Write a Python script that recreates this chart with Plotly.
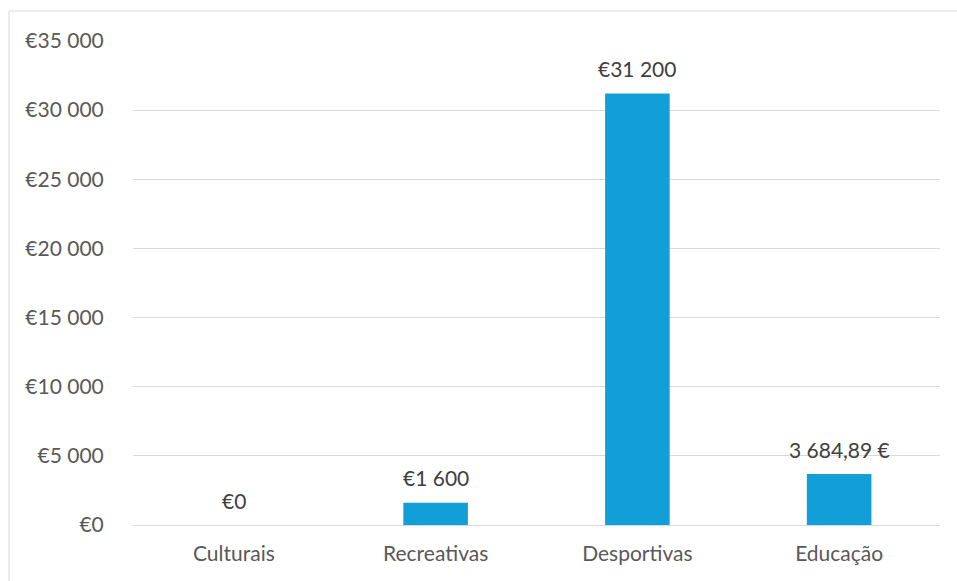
import plotly.graph_objects as go

categories = ["Culturais", "Recreativas", "Desportivas", "Educação"]
values = [0, 1600, 31200, 3684.89]
labels = ["€0", "€1 600", "€31 200", "3 684,89 €"]
tick_values = [0, 5000, 10000, 15000, 20000, 25000, 30000, 35000]
tick_labels = ["€0", "€5 000", "€10 000", "€15 000", "€20 000", "€25 000", "€30 000", "€35 000"]

text_color = "#595959"
font_family = "Lato, 'Open Sans', sans-serif"
FS = 21

fig = go.Figure(
    go.Bar(
        x=categories,
        y=values,
        marker=dict(color="#129fd8", line=dict(width=0)),
        width=0.32,
        hoverinfo="x+y",
    )
)

for c, v, t in zip(categories, values, labels):
    fig.add_annotation(
        x=c, y=v, text=t, showarrow=False,
        yanchor="middle", yshift=25,
        font=dict(size=FS, color="#404040", family=font_family),
    )

W, H = 957, 581
L, T = 133, 41
R = W - 940
B = H - 525
pw, ph = W - L - R, H - T - B

bx = (9 - L) / pw
by = 1 + (T - 11) / ph
border = dict(color="#d9d9d9", width=1)

fig.update_layout(
    width=W,
    height=H,
    margin=dict(l=L, r=R, t=T, b=B, pad=0),
    paper_bgcolor="white",
    plot_bgcolor="white",
    showlegend=False,
    font=dict(family=font_family, size=FS, color=text_color),
    xaxis=dict(
        showgrid=False,
        showline=False,
        ticks="outside",
        ticklen=10,
        tickcolor="rgba(0,0,0,0)",
        tickfont=dict(size=FS, color=text_color),
    ),
    yaxis=dict(
        range=[0, 35000],
        tickvals=tick_values,
        ticktext=tick_labels,
        showgrid=True,
        gridcolor="#d9d9d9",
        gridwidth=1,
        zeroline=True,
        zerolinecolor="#d9d9d9",
        zerolinewidth=1,
        showline=False,
        ticks="outside",
        ticklen=24,
        tickcolor="rgba(0,0,0,0)",
        tickfont=dict(size=FS, color=text_color),
    ),
    shapes=[
        dict(type="line", xref="paper", yref="paper",
             x0=bx, x1=bx, y0=-0.3, y1=by, line=border, layer="below"),
        dict(type="line", xref="paper", yref="paper",
             x0=bx, x1=1.2, y0=by, y1=by, line=border, layer="below"),
    ],
)

fig.write_html(
    "out.html",
    config={"displayModeBar": False},
    post_script="document.body.style.margin='0';document.body.style.overflow='hidden';",
)
